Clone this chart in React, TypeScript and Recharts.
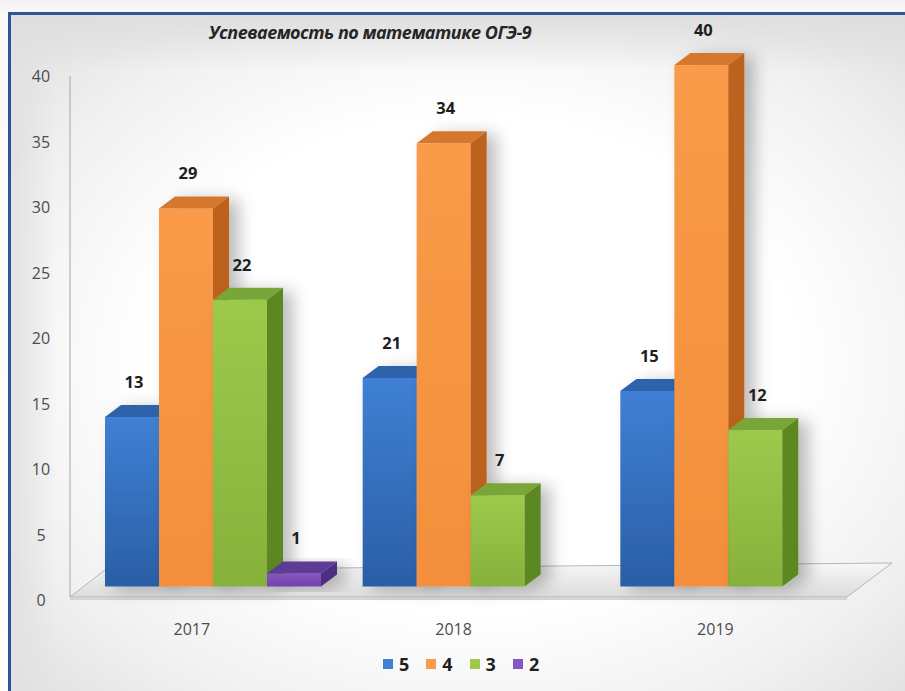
import { Bar, BarChart, LabelList, Legend, ReferenceArea, XAxis, YAxis } from "recharts";

const years = ["2017", "2018", "2019"];
const grade5 = [13, 16, 15];
const grade4 = [29, 34, 40];
const grade3 = [22, 7, 12];
const grade2 = [1, null, null];
// captions printed above the columns (the 2018 "5" column is captioned 21 but drawn at 16)
const grade5Labels = ["13", "21", "15"];
const grade4Labels = ["29", "34", "40"];
const grade3Labels = ["22", "7", "12"];
const grade2Labels = ["1", "", ""];
const yTicks = [0, 5, 10, 15, 20, 25, 30, 35, 40];

const series = [
  { key: "g5", label: "l5", name: "5", light: "#3f80d4", dark: "#2b5ea6", top: "#2f63ac", side: "#244f8c" },
  { key: "g4", label: "l4", name: "4", light: "#f99b48", dark: "#f38f3c", top: "#d5782e", side: "#bd621f" },
  { key: "g3", label: "l3", name: "3", light: "#9dc94c", dark: "#86b23b", top: "#79a637", side: "#5c8824" },
  { key: "g2", label: "l2", name: "2", light: "#8656c2", dark: "#6e44a8", top: "#5f3b98", side: "#4e2f7f" }
];

const data = years.map((year, i) => ({
  year,
  g5: grade5[i],
  g4: grade4[i],
  g3: grade3[i],
  g2: grade2[i],
  l5: grade5Labels[i],
  l4: grade4Labels[i],
  l3: grade3Labels[i],
  l2: grade2Labels[i]
}));

const DX = 16;
const DY = -12;
const LIFT = 13.5;
const FONT = "'Open Sans', 'Noto Sans', sans-serif";

function boxShape(s: any) {
  return (props: any) => {
    const { x, y, width, height } = props;
    if (x == null || !height || height <= 0) return null;
    const bottom = y + height - LIFT;
    const top = bottom - height * 0.995;
    const r = x + width;
    return (
      <g filter="url(#colShadow)">
        <rect x={x} y={top} width={width} height={bottom - top} fill={`url(#front-${s.key})`} />
        <polygon
          points={`${x},${top} ${x + DX},${top + DY} ${r + DX},${top + DY} ${r},${top}`}
          fill={s.top}
        />
        <polygon
          points={`${r},${top} ${r + DX},${top + DY} ${r + DX},${bottom + DY} ${r},${bottom}`}
          fill={s.side}
        />
      </g>
    );
  };
}

function ColumnLabel(props: any) {
  const vb = props.viewBox ?? props;
  const { x, y, width, height } = vb;
  if (!props.value || x == null) return null;
  const bottom = y + height - LIFT;
  const top = bottom - height * 0.995;
  return (
    <text
      x={x + width / 2 + 2}
      y={top - 29}
      textAnchor="middle"
      fontFamily={FONT}
      fontWeight={700}
      fontSize={16.5}
      fill="#1e1e1e"
    >
      {props.value}
    </text>
  );
}

function Floor(props: any) {
  const { x, y, width, height } = props;
  const b = y + height;
  const r = x + width;
  return (
    <g>
      <line x1={x - 14} y1={y} x2={x - 14} y2={b - 3} stroke="#a6a6a6" strokeWidth={1} />
      <polygon
        points={`${x - 14},${b - 3} ${x + 21},${b - 30} ${r + 35},${b - 37} ${r - 10},${b - 3}`}
        fill="url(#floorFill)"
        stroke="#a6a6a6"
        strokeWidth={0.8}
      />
      <rect x={x - 14} y={b - 3} width={width - 10 + 14} height={3} fill="#d4d4d4" />
    </g>
  );
}

function YTick(props: any) {
  const { y, payload } = props;
  return (
    <text x={41} y={y + 6} textAnchor="middle" fontFamily={FONT} fontSize={16} fill="#4d4d4d">
      {payload.value}
    </text>
  );
}

function XTick(props: any) {
  const { x, y, payload } = props;
  const shift = -21 + (x - 215) * 0.016;
  return (
    <text x={x + shift} y={y + 27} textAnchor="middle" fontFamily={FONT} fontSize={16} fill="#4d4d4d">
      {payload.value}
    </text>
  );
}

function LegendBox() {
  return (
    <div style={{ display: "flex", alignItems: "center", fontFamily: FONT }}>
      {series.map((s) => (
        <div key={s.key} style={{ display: "flex", alignItems: "center", marginRight: 17 }}>
          <span style={{ width: 10, height: 10, background: s.light, display: "inline-block", marginRight: 6 }} />
          <span style={{ fontSize: 18, fontWeight: 700, color: "#1e1e1e", lineHeight: "20px" }}>{s.name}</span>
        </div>
      ))}
    </div>
  );
}

export default function App() {
  return (
    <div
      style={{
        position: "fixed",
        left: 0,
        top: 0,
        width: 905,
        height: 691,
        overflow: "hidden",
        background: "linear-gradient(#f1f1f1, #fafafa 2%, #ffffff)"
      }}
    >
      <div
        style={{
          position: "absolute",
          left: 8,
          top: 12,
          width: 920,
          height: 700,
          borderLeft: "3px solid #2d5696",
          borderTop: "3px solid #2d5696",
          background: [
            "linear-gradient(#dedede, rgba(255,255,255,0) 55px)",
            "linear-gradient(to right, #e2e2e2, rgba(255,255,255,0) 45px)",
            "radial-gradient(ellipse at 50% 50%, #ffffff 50%, #f1f1f1 75%, #dedede 100%)"
          ].join(", ")
        }}
      />
      <div
        style={{
          position: "absolute",
          left: 170,
          top: 20,
          width: 400,
          textAlign: "center",
          fontFamily: FONT,
          fontStyle: "italic",
          fontWeight: 700,
          fontSize: 18,
          letterSpacing: -0.5,
          color: "#262626"
        }}
      >
        Успеваемость по математике ОГЭ-9
      </div>
      <div style={{ position: "absolute", left: 0, top: 0 }}>
        <BarChart
          width={905}
          height={691}
          data={data}
          margin={{ top: 76, right: 48, bottom: 51, left: 0 }}
          barSize={54}
          barGap={0}
        >
          <defs>
            {series.map((s) => (
              <linearGradient key={s.key} id={`front-${s.key}`} x1="0" y1="0" x2="0" y2="1">
                <stop offset="0%" stopColor={s.light} />
                <stop offset="100%" stopColor={s.dark} />
              </linearGradient>
            ))}
            <linearGradient id="floorFill" x1="0" y1="0" x2="0" y2="1">
              <stop offset="0%" stopColor="#f7f7f7" />
              <stop offset="100%" stopColor="#dcdcdc" />
            </linearGradient>
            <filter id="colShadow" x="-30%" y="-10%" width="180%" height="130%">
              <feDropShadow dx={10} dy={3} stdDeviation={8} floodColor="#000" floodOpacity={0.26} />
            </filter>
          </defs>
          <XAxis dataKey="year" axisLine={false} tickLine={false} tick={<XTick />} height={40} />
          <YAxis
            domain={[0, 40]}
            ticks={yTicks}
            axisLine={false}
            tickLine={false}
            tick={<YTick />}
            width={84}
          />
          <ReferenceArea y1={0} y2={40} shape={<Floor />} fill="none" />
          {series.map((s) => (
            <Bar
              key={s.key}
              dataKey={s.key}
              name={s.name}
              fill={s.light}
              shape={boxShape(s)}
              isAnimationActive={false}
            >
              <LabelList dataKey={s.label} content={<ColumnLabel />} />
            </Bar>
          ))}
          <Legend
            content={<LegendBox />}
            wrapperStyle={{ position: "absolute", top: 654, left: 383, width: 300, height: 0, overflow: "visible" }}
          />
        </BarChart>
      </div>
    </div>
  );
}
